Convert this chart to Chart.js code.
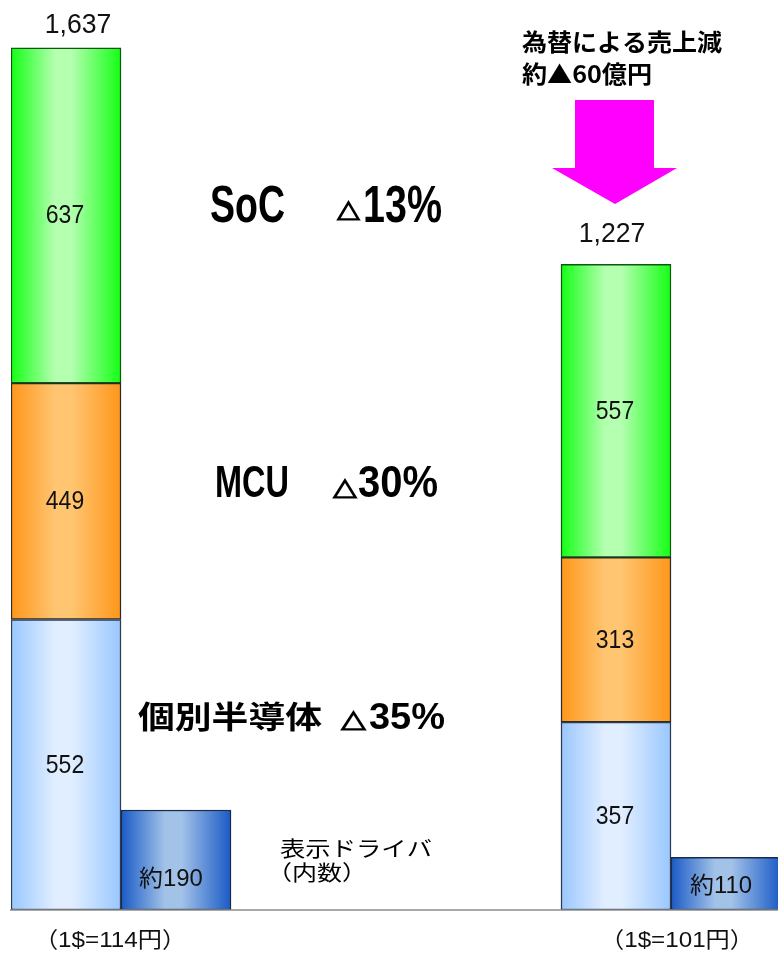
<!DOCTYPE html>
<html>
<head>
<meta charset="utf-8">
<script src="https://cdn.jsdelivr.net/npm/chart.js@4/dist/chart.umd.min.js"></script>
<style>
    html, body { margin: 0; padding: 0; background: #fff; overflow: hidden; }
    canvas { display: block; }
</style>
</head>
<body>
<canvas id="salesChart" width="781" height="955"></canvas>
<script>
// 7 slots: total bar, driver bar, gap x3, total bar, driver bar
const categories = ["（1$=114円）", "", "", "", "", "（1$=101円）", ""];
const discreteData = [552, null, null, null, null, 357, null];
const mcuData = [449, null, null, null, null, 313, null];
const socData = [637, null, null, null, null, 557, null];
const driverData = [null, 190, null, null, null, null, 100];
const driverLabels = [null, "約190", null, null, null, null, "約110"];
const totalLabels = ["1,637", null, null, null, null, "1,227", null];
const changeNotes = [
    { name: "SoC", change: "13%" },
    { name: "MCU", change: "30%" },
    { name: "個別半導体", change: "35%" },
];
const fxNote = ["為替による売上減", "約▲60億円"];
const driverNote = ["表示ドライバ", "（内数）"];

const NUM_FONT = '"Liberation Sans", "Noto Sans CJK JP", sans-serif';
const JP_FONT = '"Noto Sans CJK JP", "Liberation Sans", sans-serif';

function hGrad(edge, mid) {
    return function (c) {
        const chart = c.chart;
        const xs = chart.scales.x;
        if (!xs || !chart.chartArea) return edge;
        const cx = xs.getPixelForValue(c.dataIndex);
        const w = xs.width / categories.length;
        const g = chart.ctx.createLinearGradient(cx - w / 2, 0, cx + w / 2, 0);
        g.addColorStop(0, edge);
        g.addColorStop(0.4, mid);
        g.addColorStop(0.55, mid);
        g.addColorStop(1, edge);
        return g;
    };
}

function drawText(ctx, text, x, y, font, opts) {
    opts = opts || {};
    ctx.save();
    ctx.font = font;
    const w = ctx.measureText(text).width;
    const sx = opts.width ? opts.width / w : (opts.sx || 1);
    ctx.translate(x, y);
    ctx.scale(sx, 1);
    ctx.textAlign = opts.align || "left";
    ctx.textBaseline = opts.baseline || "alphabetic";
    ctx.fillStyle = opts.color || "#000";
    ctx.fillText(text, 0, 0);
    if (opts.stroke) {
        ctx.strokeStyle = opts.color || "#000";
        ctx.lineWidth = opts.stroke;
        ctx.strokeText(text, 0, 0);
    }
    ctx.restore();
}

const notesPlugin = {
    id: "notes",
    afterDatasetsDraw(chart) {
        const ctx = chart.ctx;
        const xs = chart.scales.x;
        const ys = chart.scales.y;
        const area = chart.chartArea;
        const zero = ys.getPixelForValue(0);

        // baseline
        ctx.save();
        ctx.strokeStyle = "#8c8c8c";
        ctx.lineWidth = 1.5;
        ctx.beginPath();
        ctx.moveTo(area.left - 1, zero);
        ctx.lineTo(area.right, zero);
        ctx.stroke();
        ctx.restore();

        // values inside segments
        [0, 1, 2].forEach(function (di) {
            const meta = chart.getDatasetMeta(di);
            const data = chart.data.datasets[di].data;
            meta.data.forEach(function (el, i) {
                if (data[i] == null) return;
                drawText(ctx, String(data[i]), el.x - 1, (el.y + el.base) / 2 + 1,
                    "25px " + NUM_FONT, { align: "center", baseline: "middle", sx: 0.92, color: "#111" });
            });
        });

        // driver bars
        const dmeta = chart.getDatasetMeta(3);
        const dOffsets = { 1: 24, 6: 17 };
        dmeta.data.forEach(function (el, i) {
            if (!driverLabels[i]) return;
            drawText(ctx, driverLabels[i], el.x - 5, el.base - dOffsets[i],
                "23px " + NUM_FONT, { align: "center", sx: 1.04, color: "#111" });
        });

        // totals above bars
        const smeta = chart.getDatasetMeta(2);
        const tShift = { 0: [12, 15], 5: [-4, 22] };
        smeta.data.forEach(function (el, i) {
            if (!totalLabels[i]) return;
            drawText(ctx, totalLabels[i], el.x + tShift[i][0], el.y - tShift[i][1],
                "28px " + NUM_FONT, { align: "center", sx: 0.95, color: "#111" });
        });

        // category labels below the axis, centred on each pair
        const lShift = { 0: -11, 5: 6 };
        categories.forEach(function (lab, i) {
            if (!lab) return;
            const cx = (xs.getPixelForValue(i) + xs.getPixelForValue(i + 1)) / 2 + lShift[i];
            drawText(ctx, lab, cx, zero + 37, "22px " + NUM_FONT, { align: "center", sx: 1.1, color: "#111" });
        });

        // change notes
        drawText(ctx, changeNotes[0].name, 210, 222, "bold 52px " + NUM_FONT, { width: 75 });
        drawText(ctx, "△", 337, 219, "21px " + JP_FONT, { width: 23, stroke: 1.6 });
        drawText(ctx, changeNotes[0].change, 363, 222, "bold 52px " + NUM_FONT, { width: 79 });

        drawText(ctx, changeNotes[1].name, 215, 497, "bold 45px " + NUM_FONT, { width: 74 });
        drawText(ctx, "△", 333, 497, "21px " + JP_FONT, { width: 24, stroke: 1.6 });
        drawText(ctx, changeNotes[1].change, 358, 497, "bold 45px " + NUM_FONT, { width: 80 });

        drawText(ctx, changeNotes[2].name, 138, 728, "bold 31px " + JP_FONT, { width: 184 });
        drawText(ctx, "△", 341, 729, "21px " + JP_FONT, { width: 25, stroke: 1.6 });
        drawText(ctx, changeNotes[2].change, 369, 729, "bold 37px " + NUM_FONT, { width: 76 });

        // fx note and arrow
        drawText(ctx, fxNote[0], 522, 51, "bold 24px " + JP_FONT, { width: 200 });
        drawText(ctx, fxNote[1], 522, 83, "bold 24px " + JP_FONT, { width: 130 });

        ctx.save();
        ctx.fillStyle = "#ff00ff";
        ctx.beginPath();
        ctx.moveTo(575, 100);
        ctx.lineTo(654, 100);
        ctx.lineTo(654, 168);
        ctx.lineTo(677, 168);
        ctx.lineTo(615, 204);
        ctx.lineTo(552, 168);
        ctx.lineTo(575, 168);
        ctx.closePath();
        ctx.fill();
        ctx.restore();

        // driver note
        drawText(ctx, driverNote[0], 280, 856, "21px " + JP_FONT, { width: 152 });
        drawText(ctx, driverNote[1], 267, 880, "21px " + JP_FONT, { sx: 1.19 });
    },
};

document.addEventListener("DOMContentLoaded", function () {
    const ctx = document.getElementById("salesChart").getContext("2d");

    new Chart(ctx, {
        type: "bar",
        data: {
            labels: categories,
            datasets: [
                {
                    label: "個別半導体",
                    data: discreteData,
                    backgroundColor: hGrad("#99c7ff", "#e1eeff"),
                    borderColor: "#2e3a52",
                },
                {
                    label: "MCU",
                    data: mcuData,
                    backgroundColor: hGrad("#ff961a", "#ffc571"),
                    borderColor: "#2a2a2a",
                },
                {
                    label: "SoC",
                    data: socData,
                    backgroundColor: hGrad("#14ff14", "#b4ffb0"),
                    borderColor: "#0b5a0b",
                },
                {
                    label: "表示ドライバ",
                    data: driverData,
                    backgroundColor: hGrad("#1a5ac6", "#a2c2e8"),
                    borderColor: "#1a2a4a",
                },
            ],
        },
        options: {
            responsive: false,
            animation: false,
            devicePixelRatio: 1,
            layout: {
                padding: { left: 11, right: 0, top: 0, bottom: 45 },
            },
            datasets: {
                bar: {
                    barPercentage: 1,
                    categoryPercentage: 1,
                    borderWidth: 1.5,
                    borderSkipped: false,
                    stack: "sales",
                },
            },
            plugins: {
                legend: { display: false },
                tooltip: { enabled: false },
            },
            scales: {
                x: { display: false, stacked: true },
                y: { display: false, stacked: true, min: 0, max: 1729 },
            },
        },
        plugins: [notesPlugin],
    });
});
</script>
</body>
</html>
